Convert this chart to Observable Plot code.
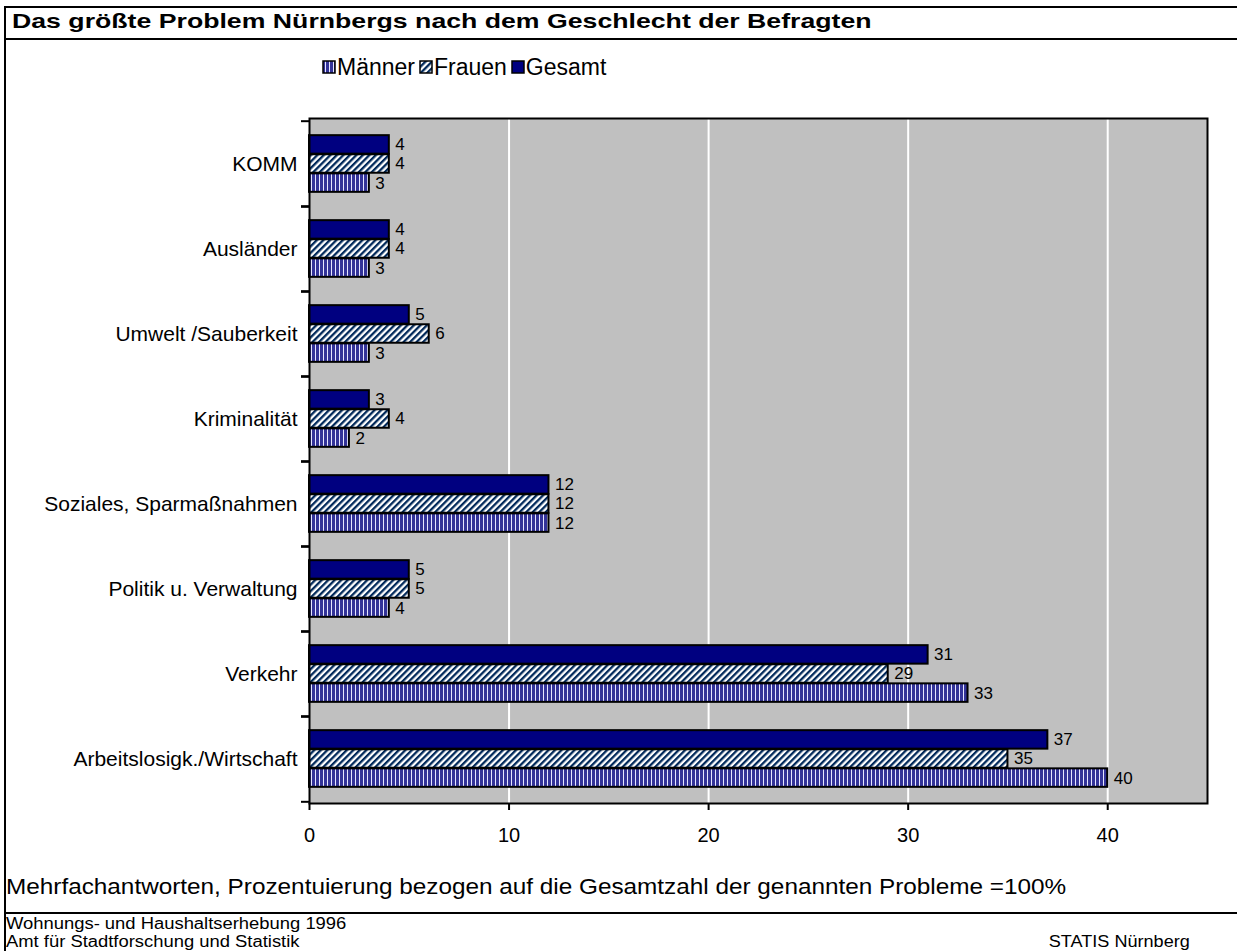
<!DOCTYPE html>
<html>
<head>
<meta charset="utf-8">
<script src="https://cdn.jsdelivr.net/npm/d3@7"></script>
<script src="https://cdn.jsdelivr.net/npm/@observablehq/plot@0.6"></script>
<style>
  html, body { margin: 0; padding: 0; background: #fff; }
  body { position: relative; width: 1237px; height: 951px; overflow: hidden; font-family: "Liberation Sans", Arial, sans-serif; color: #000; }
  .box { position: absolute; left: 4px; top: 6px; width: 1260px; height: 1000px; border: 2px solid #000; box-sizing: border-box; }
  .hline { position: absolute; left: 4px; width: 1260px; height: 2px; background: #000; }
  .title { position: absolute; left: 12px; top: 9px; font-weight: bold; font-size: 21px; line-height: 24px; white-space: nowrap; transform: scaleX(1.27); transform-origin: left center; }
  .legend { position: absolute; left: 322px; top: 53px; font-size: 23px; line-height: 28px; white-space: nowrap; display: flex; align-items: center; }
  .legend .item { display: flex; align-items: center; margin-right: 4px; }
  .legend svg { margin-right: 1px; }
  .note { position: absolute; left: 6px; top: 874px; font-size: 22px; line-height: 26px; white-space: nowrap; transform: scaleX(1.105); transform-origin: left center; }
  .src1, .src2, .src3 { position: absolute; font-size: 16px; line-height: 18px; white-space: nowrap; }
  .src1 { left: 6px; top: 915px; transform: scaleX(1.15); transform-origin: left center; }
  .src2 { left: 6px; top: 933px; transform: scaleX(1.15); transform-origin: left center; }
  .src3 { right: 47px; top: 933px; transform: scaleX(1.13); transform-origin: right center; }
  #chart { position: absolute; left: 0; top: 100px; }
</style>
</head>
<body>
<svg width="0" height="0" style="position:absolute">
  <defs>
    <pattern id="p-men" patternUnits="userSpaceOnUse" width="4" height="4">
      <rect x="0" y="0" width="4" height="4" fill="#333399"></rect>
      <rect x="3" y="0" width="1" height="4" fill="#e6e6ff"></rect>
    </pattern>
    <pattern id="p-women" patternUnits="userSpaceOnUse" width="4.6" height="4.6" patternTransform="rotate(45)">
      <rect x="0" y="0" width="4.6" height="4.6" fill="#ffffff"></rect>
      <rect x="0" y="0" width="2.3" height="4.6" fill="#00285a"></rect>
    </pattern>
  </defs>
</svg>
<div class="box"></div>
<div class="title">Das größte Problem Nürnbergs nach dem Geschlecht der Befragten</div>
<div class="hline" style="top:38px"></div>
<div class="legend" id="legend"></div>
<div id="chart"></div>
<div class="note">Mehrfachantworten, Prozentuierung bezogen auf die Gesamtzahl der genannten Probleme =100%</div>
<div class="hline" style="top:912px"></div>
<div class="src1">Wohnungs- und Haushaltserhebung 1996</div>
<div class="src2">Amt für Stadtforschung und Statistik</div>
<div class="src3">STATIS Nürnberg</div>
<script>
// ---- data ----
const categories = ["KOMM", "Ausländer", "Umwelt /Sauberkeit", "Kriminalität", "Soziales, Sparmaßnahmen", "Politik u. Verwaltung", "Verkehr", "Arbeitslosigk./Wirtschaft"];
const maenner = [3, 3, 3, 2, 12, 4, 33, 40];
const frauen  = [4, 4, 6, 4, 12, 5, 29, 35];
const gesamt  = [4, 4, 5, 3, 12, 5, 31, 37];
const seriesNames = ["Männer", "Frauen", "Gesamt"];
const xTicks = [0, 10, 20, 30, 40];

// ---- styling ----
const seriesFill = {"Männer": "url(#p-men)", "Frauen": "url(#p-women)", "Gesamt": "#000080"};
const seriesValues = {"Männer": maenner, "Frauen": frauen, "Gesamt": gesamt};
const seriesSlot = {"Gesamt": -1, "Frauen": 0, "Männer": 1};

const W = 1237, H = 760, mt = 18, mb = 57, ml = 309, mr = 30;
const step = (H - mt - mb) / categories.length;
const barH = 19.1;
const inset = (step - barH) / 2;

const marks = [
  Plot.frame({fill: "#c0c0c0"}),
  Plot.gridX(xTicks.filter(d => d > 0), {stroke: "#ffffff", strokeOpacity: 1, strokeWidth: 2})
];
for (const s of seriesNames) {
  const rows = categories.map((c, i) => ({category: c, value: seriesValues[s][i]}));
  marks.push(Plot.barX(rows, {
    x: "value", y: "category", fill: seriesFill[s], stroke: "#000", strokeWidth: 2,
    insetTop: inset, insetBottom: inset, dy: seriesSlot[s] * barH
  }));
  marks.push(Plot.text(rows, {
    x: "value", y: "category", text: d => String(d.value), dx: 6, dy: seriesSlot[s] * barH,
    textAnchor: "start", fontSize: 17, fill: "#000"
  }));
}
marks.push(
  Plot.frame({stroke: "#000", strokeWidth: 2}),
  Plot.axisX({ticks: xTicks, tickSize: 7, tickPadding: 17, fontSize: 20, strokeWidth: 2, label: null}),
  Plot.axisY({tickSize: 0, tickPadding: 12, fontSize: 21, label: null}),
  Plot.axisY({tickSize: 8, tickFormat: () => "", strokeWidth: 2, dy: step / 2, label: null}),
  Plot.axisY({tickSize: 8, tickFormat: () => "", strokeWidth: 2, dy: -step / 2, label: null})
);

const chart = Plot.plot({
  width: W, height: H,
  marginTop: mt, marginBottom: mb, marginLeft: ml, marginRight: mr,
  x: {domain: [0, 45], label: null},
  y: {type: "band", domain: categories, padding: 0, label: null},
  style: {fontFamily: "'Liberation Sans', Arial, sans-serif", fontSize: "20px", color: "#000", background: "transparent", overflow: "visible"},
  marks
});
document.getElementById("chart").appendChild(chart);

// ---- legend ----
const legend = document.getElementById("legend");
for (const s of seriesNames) {
  const item = document.createElement("span");
  item.className = "item";
  item.innerHTML = `<svg width="14" height="14"><rect x="1" y="1" width="12" height="12" fill="${seriesFill[s]}" stroke="#000" stroke-width="1.5"></rect></svg><span>${s}</span>`;
  legend.appendChild(item);
}
</script>
</body>
</html>
